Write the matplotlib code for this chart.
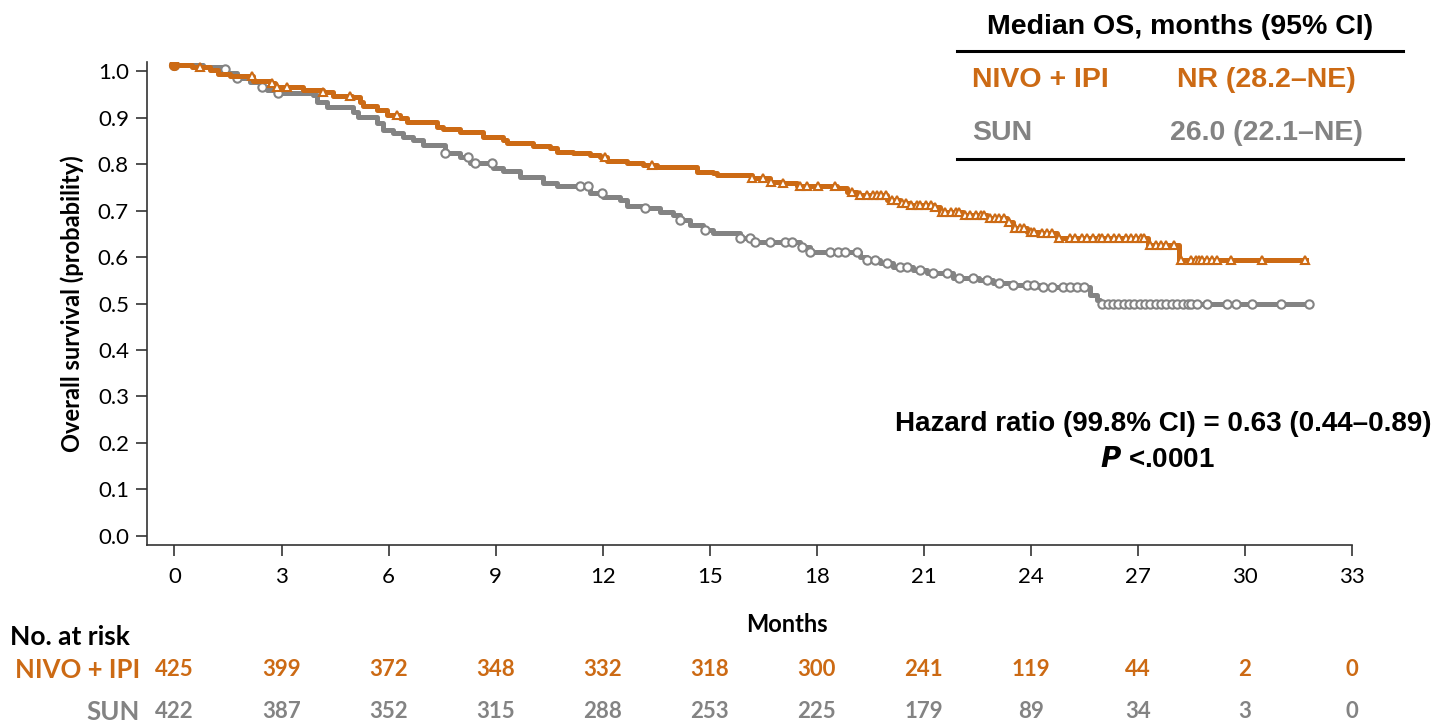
import numpy as np
import matplotlib.pyplot as plt
from matplotlib.lines import Line2D
from matplotlib.transforms import blended_transform_factory

# Kaplan-Meier steps (months, survival probability)
nivo_t = [0, 0.49, 0.99, 1.22, 1.55, 2.20, 2.68, 2.82, 3.60, 4.16, 4.44, 4.97, 5.20, 5.28,
          5.67, 5.95, 6.32, 6.51, 7.35, 7.52, 7.99, 8.64, 9.20, 9.31, 10.04, 10.52, 10.71,
          11.16, 11.64, 11.92, 12.11, 12.68, 13.12, 13.52, 14.64, 15.08, 15.20, 16.18, 16.68,
          17.05, 17.44, 18.56, 18.84, 19.12, 19.96, 20.32, 20.60, 21.25, 21.44, 22.09, 22.76,
          23.32, 23.49, 23.88, 24.24, 24.72, 27.27, 28.16, 31.72]
nivo_s = [1.013, 1.009, 1.002, 0.994, 0.989, 0.980, 0.974, 0.966, 0.959, 0.955, 0.946, 0.944,
          0.933, 0.925, 0.916, 0.905, 0.899, 0.890, 0.880, 0.875, 0.869, 0.858, 0.852, 0.845,
          0.839, 0.834, 0.826, 0.823, 0.819, 0.815, 0.806, 0.802, 0.798, 0.794, 0.783, 0.781,
          0.776, 0.770, 0.761, 0.759, 0.753, 0.748, 0.740, 0.733, 0.723, 0.716, 0.712, 0.708,
          0.697, 0.690, 0.684, 0.675, 0.662, 0.654, 0.652, 0.641, 0.626, 0.594, 0.594]

sun_t = [0, 0.80, 1.41, 1.47, 1.75, 2.11, 2.39, 2.59, 2.90, 3.88, 3.99, 4.27, 5.00, 5.14, 5.67,
         5.84, 6.12, 6.40, 6.68, 6.96, 7.58, 7.99, 8.28, 8.92, 9.20, 9.68, 10.32, 10.71, 11.64,
         12.00, 12.48, 12.68, 13.12, 13.60, 13.96, 14.16, 14.44, 14.80, 15.08, 15.84, 16.22,
         17.52, 17.80, 19.20, 19.40, 19.76, 20.13, 20.69, 21.08, 21.81, 22.56, 22.93, 23.49,
         24.24, 25.65, 25.84, 25.93, 31.80]
sun_s = [1.013, 1.009, 1.004, 0.996, 0.985, 0.976, 0.966, 0.959, 0.953, 0.948, 0.933, 0.923,
         0.912, 0.901, 0.888, 0.873, 0.867, 0.858, 0.852, 0.841, 0.824, 0.815, 0.802, 0.791,
         0.785, 0.772, 0.759, 0.753, 0.738, 0.729, 0.723, 0.710, 0.705, 0.697, 0.690, 0.680,
         0.669, 0.658, 0.652, 0.641, 0.632, 0.622, 0.611, 0.600, 0.594, 0.587, 0.578, 0.572,
         0.566, 0.555, 0.551, 0.544, 0.540, 0.535, 0.518, 0.508, 0.499, 0.499]

# censoring marks (months)
nivo_cens = [0.71, 2.17, 2.73, 2.87, 3.15, 4.16, 4.92, 6.23, 12.06, 13.38, 16.18, 16.48, 16.73,
             17.05, 17.52, 17.72, 18.03, 18.5, 18.98, 19.2, 19.4, 19.57, 19.68, 19.8, 19.95,
             20.1, 20.25, 20.4, 20.5, 20.65, 20.8, 20.9, 21.05, 21.2, 21.3, 21.5, 21.6, 21.75,
             21.9, 22.0, 22.15, 22.3, 22.45, 22.6, 22.7, 22.85, 23.0, 23.1, 23.25, 23.4, 23.55,
             23.7, 23.8, 24.0, 24.1, 24.3, 24.45, 24.6, 24.8, 25.09, 25.23, 25.43, 25.57, 25.74,
             25.92, 26.0, 26.15, 26.34, 26.48, 26.68, 26.82, 26.96, 27.1, 27.18, 27.33, 27.5,
             27.65, 27.8, 28.0, 28.22, 28.5, 28.64, 28.72, 28.81, 28.95, 29.09, 29.23, 29.62,
             30.47, 31.67]
sun_cens = [1.41, 1.75, 2.45, 2.9, 7.58, 8.22, 8.42, 8.9, 11.36, 11.58, 11.97, 13.18, 14.16,
            14.86, 15.84, 16.12, 16.26, 16.68, 17.1, 17.32, 17.58, 17.8, 18.36, 18.59, 18.78,
            19.12, 19.40, 19.62, 19.96, 20.32, 20.52, 20.88, 21.25, 21.64, 22.0, 22.37, 22.76,
            23.12, 23.49, 23.88, 24.1, 24.35, 24.6, 24.9, 25.1, 25.3, 25.5, 26.0, 26.15, 26.3,
            26.45, 26.6, 26.75, 26.9, 27.05, 27.2, 27.35, 27.5, 27.65, 27.8, 27.95, 28.1, 28.25,
            28.4, 28.5, 28.67, 28.95, 29.51, 29.76, 30.21, 31.02, 31.8]

risk_months = [0, 3, 6, 9, 12, 15, 18, 21, 24, 27, 30, 33]
nivo_risk = [425, 399, 372, 348, 332, 318, 300, 241, 119, 44, 2, 0]
sun_risk = [422, 387, 352, 315, 288, 253, 225, 179, 89, 34, 3, 0]

ORANGE = "#CC6A14"
GREY = "#838383"

W, H = 1438, 724
fig = plt.figure(figsize=(W / 100, H / 100), dpi=100)
ax = fig.add_axes([147 / W, 1 - 545 / H, (1352 - 147) / W, (545 - 62) / H])


def step_at(t, s, x):
    i = np.searchsorted(t, x, side="right") - 1
    return np.array(s)[i]


ax.step(sun_t, sun_s, where="post", color=GREY, lw=3.6, zorder=2)
ax.plot(sun_cens, step_at(sun_t, sun_s, sun_cens), "o", ms=6, mfc="white", mec=GREY,
        mew=1.5, zorder=3)
ax.step(nivo_t, nivo_s, where="post", color=ORANGE, lw=3.6, zorder=4)
ax.plot(nivo_cens, step_at(nivo_t, nivo_s, nivo_cens), "^", ms=6, mfc="white", mec=ORANGE,
        mew=1.5, zorder=5)
ax.plot([0], [sun_s[0]], "o", ms=7, color=GREY, zorder=6)
ax.plot([0], [nivo_s[0]], "o", ms=7, color=ORANGE, zorder=7)

ax.set_xlim(-0.77, 33)
ax.set_ylim(-0.02, 1.02)
ax.set_xticks(risk_months)
ax.set_yticks(np.arange(0, 1.01, 0.1))
ax.set_yticklabels([f"{v:.1f}" for v in np.arange(0, 1.01, 0.1)])
for sp in ["top", "right"]:
    ax.spines[sp].set_visible(False)
for sp in ["left", "bottom"]:
    ax.spines[sp].set_linewidth(1.2)
    ax.spines[sp].set_color("#333333")
ax.tick_params(direction="out", length=8, width=1.2, color="#333333", labelsize=16,
               labelcolor="black")
ax.tick_params(axis="x", pad=8)
ax.tick_params(axis="y", pad=5)
for lab in ax.get_xticklabels() + ax.get_yticklabels():
    lab.set_family("Lato")

ax.set_ylabel("Overall survival (probability)", family="Lato", fontweight="bold",
              fontsize=17, labelpad=10)
fig.text(787 / W, 1 - 625 / H, "Months", family="Lato", fontweight="bold", fontsize=17,
         ha="center", va="center")

# median OS table
fs = 20.5
fig.text(1180 / W, 1 - 27 / H, "Median OS, months (95% CI)", family="Liberation Sans",
         fontweight="bold", fontsize=fs, ha="center", va="center")
fig.text(972 / W, 1 - 80 / H, "NIVO + IPI", family="Liberation Sans", fontweight="bold",
         fontsize=fs, color=ORANGE, ha="left", va="center")
fig.text(1266 / W, 1 - 80 / H, "NR (28.2\u2013NE)", family="Liberation Sans",
         fontweight="bold", fontsize=fs, color=ORANGE, ha="center", va="center")
fig.text(972 / W, 1 - 133 / H, "SUN", family="Liberation Sans", fontweight="bold",
         fontsize=fs, color=GREY, ha="left", va="center")
fig.text(1266 / W, 1 - 133 / H, "26.0 (22.1\u2013NE)", family="Liberation Sans",
         fontweight="bold", fontsize=fs, color=GREY, ha="center", va="center")
for yy in [51, 159]:
    fig.add_artist(Line2D([957 / W, 1403 / W], [1 - yy / H, 1 - yy / H], color="black",
                          lw=2.2))

fig.text(1163 / W, 1 - 424 / H, "Hazard ratio (99.8% CI) = 0.63 (0.44\u20130.89)",
         family="Liberation Sans", fontweight="bold", fontsize=20, ha="center", va="center")
fig.text(1157 / W, 1 - 460 / H, r"$\bfit{P}$ <.0001", family="Liberation Sans",
         fontweight="bold", fontsize=20, ha="center", va="center")

# number at risk
fig.text(10 / W, 1 - 637 / H, "No. at risk", family="Lato", fontweight="bold",
         fontsize=19, ha="left", va="center")
fig.text(140 / W, 1 - 670 / H, "NIVO + IPI", family="Lato", fontweight="bold",
         fontsize=18.5, color=ORANGE, ha="right", va="center")
fig.text(140 / W, 1 - 712 / H, "SUN", family="Lato", fontweight="bold",
         fontsize=18.5, color=GREY, ha="right", va="center")
tr = blended_transform_factory(ax.transData, fig.transFigure)
for m, a, b in zip(risk_months, nivo_risk, sun_risk):
    ax.text(m, 1 - 670 / H, str(a), transform=tr, family="Lato", fontweight="bold",
            fontsize=16, color=ORANGE, ha="center", va="center", clip_on=False)
    ax.text(m, 1 - 712 / H, str(b), transform=tr, family="Lato", fontweight="bold",
            fontsize=16, color=GREY, ha="center", va="center", clip_on=False)

fig.savefig("out.png", dpi=100)
